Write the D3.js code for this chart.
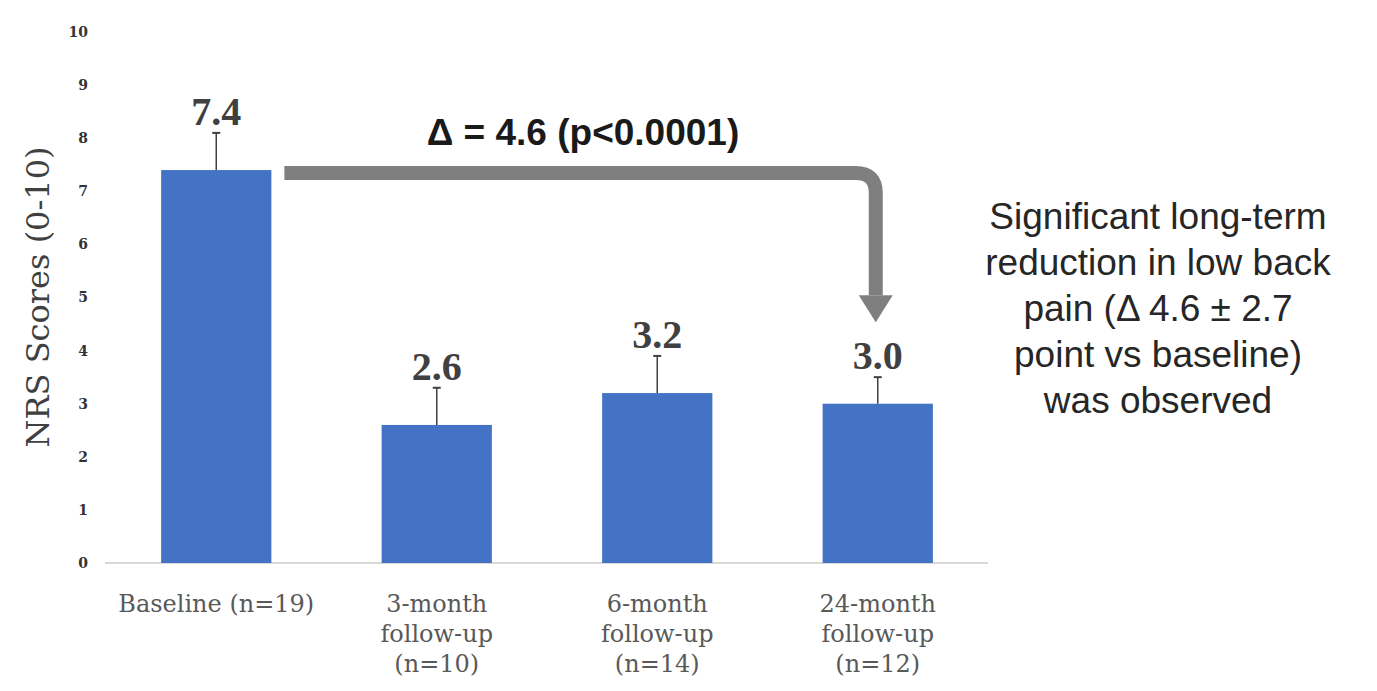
<!DOCTYPE html>
<html lang="en">
<head>
<meta charset="UTF-8">
<title>NRS Scores</title>
<script src="https://d3js.org/d3.v7.min.js"></script>
<style>
  body { margin: 0; background: #fff; }
  svg { display: block; }
</style>
</head>
<body>
<svg width="1377" height="691"></svg>
<script>
// chart values
var categories = [
  ["Baseline (n=19)"],
  ["3-month", "follow-up", "(n=10)"],
  ["6-month", "follow-up", "(n=14)"],
  ["24-month", "follow-up", "(n=12)"]
];
var means = [7.4, 2.6, 3.2, 3.0];
var errors = [0.7, 0.7, 0.7, 0.5];
var valueLabels = ["7.4", "2.6", "3.2", "3.0"];
var yTicks = [0, 1, 2, 3, 4, 5, 6, 7, 8, 9, 10];
var deltaText = "\u0394 = 4.6 (p<0.0001)";
var noteLines = [
  "Significant long-term",
  "reduction in low back",
  "pain (\u0394 4.6 \u00b1 2.7",
  "point vs baseline)",
  "was observed"
];

var svg = d3.select("svg");
var serif = "'DejaVu Serif', serif";
var sans = "'Liberation Sans', Arial, sans-serif";

var ids = d3.range(categories.length);
var x = d3.scaleBand().domain(ids).range([106, 988]).paddingInner(0.5).paddingOuter(0.25);
var y = d3.scaleLinear().domain([0, 10]).range([563, 32]);
var bw = x.bandwidth();

// y tick labels (no axis line)
var yAxis = d3.axisLeft(y).tickValues(yTicks).tickSize(0).tickPadding(0);
var yg = svg.append("g").attr("transform", "translate(88,0)").call(yAxis);
yg.select(".domain").remove();
yg.selectAll("text")
  .attr("font-family", serif).attr("font-weight", "bold")
  .attr("font-size", 14).attr("fill", "#333");

// y title
svg.append("text")
  .attr("transform", "translate(49,297) rotate(-90)")
  .attr("text-anchor", "middle")
  .attr("font-family", serif).attr("font-size", 32)
  .attr("fill", "#404040")
  .text("NRS Scores (0-10)");

// baseline axis
var xAxis = d3.axisBottom(x).tickSize(0).tickFormat("");
var xg = svg.append("g").attr("transform", "translate(0," + y(0) + ")").call(xAxis);
xg.select(".domain").attr("stroke", "#d9d9d9").attr("stroke-width", 2)
  .attr("d", "M" + 105 + ",0H" + 988);

// bars
svg.selectAll(".bar").data(ids).enter().append("rect")
  .attr("class", "bar")
  .attr("x", function(i) { return x(i); })
  .attr("y", function(i) { return y(means[i]); })
  .attr("width", bw)
  .attr("height", function(i) { return y(0) - y(means[i]); })
  .attr("fill", "#4472c4");

// error bars
var eb = svg.selectAll(".err").data(ids).enter().append("g").attr("class", "err");
eb.append("line")
  .attr("x1", function(i) { return x(i) + bw / 2; })
  .attr("x2", function(i) { return x(i) + bw / 2; })
  .attr("y1", function(i) { return y(means[i]); })
  .attr("y2", function(i) { return y(means[i] + errors[i]); })
  .attr("stroke", "#404040").attr("stroke-width", 1.5);
eb.append("line")
  .attr("x1", function(i) { return x(i) + bw / 2 - 4; })
  .attr("x2", function(i) { return x(i) + bw / 2 + 4; })
  .attr("y1", function(i) { return y(means[i] + errors[i]); })
  .attr("y2", function(i) { return y(means[i] + errors[i]); })
  .attr("stroke", "#404040").attr("stroke-width", 2);

// value labels
svg.selectAll(".val").data(ids).enter().append("text")
  .attr("class", "val")
  .attr("x", function(i) { return x(i) + bw / 2; })
  .attr("y", function(i) { return y(means[i] + errors[i]) - 8; })
  .attr("text-anchor", "middle")
  .attr("font-family", "'Liberation Serif', serif").attr("font-weight", "bold")
  .attr("font-size", 40).attr("fill", "#404040")
  .text(function(i) { return valueLabels[i]; });

// category labels
var cl = svg.selectAll(".cat").data(ids).enter().append("text")
  .attr("class", "cat")
  .attr("text-anchor", "middle")
  .attr("font-family", serif).attr("font-size", 24)
  .attr("fill", "#595959");
cl.selectAll("tspan").data(function(i) {
    return categories[i].map(function(t, k) { return { t: t, k: k, i: i }; });
  }).enter().append("tspan")
  .attr("x", function(d) { return x(d.i) + bw / 2; })
  .attr("y", function(d) { return 612 + d.k * 30; })
  .text(function(d) { return d.t; });

// elbow arrow from baseline bar to 24-month bar
var last = ids.length - 1;
var ax0 = x(0) + bw + 13;
var ay = y(means[0]) + 3;
var ax1 = x(last) + bw / 2 - 2;
var headTop = y(means[last] + errors[last]) - 82;
var tipY = y(means[last] + errors[last]) - 55;
var r = 20;
svg.append("path")
  .attr("d", "M" + ax0 + "," + ay + "H" + (ax1 - r) +
    "Q" + ax1 + "," + ay + " " + ax1 + "," + (ay + r) + "V" + headTop)
  .attr("fill", "none").attr("stroke", "#7f7f7f").attr("stroke-width", 14);
svg.append("path")
  .attr("d", "M" + (ax1 - 17) + "," + headTop + "H" + (ax1 + 17) +
    "L" + ax1 + "," + tipY + "Z")
  .attr("fill", "#7f7f7f");

svg.append("text")
  .attr("x", 583).attr("y", 145)
  .attr("text-anchor", "middle")
  .attr("font-family", sans).attr("font-weight", "bold")
  .attr("font-size", 37).attr("fill", "#1a1a1a")
  .text(deltaText);

// right-side note
svg.append("g").selectAll("text").data(noteLines).enter().append("text")
  .attr("x", 1158)
  .attr("y", function(d, k) { return 229 + k * 46; })
  .attr("text-anchor", "middle")
  .attr("font-family", sans).attr("font-size", 37)
  .attr("fill", "#262626")
  .text(function(d) { return d; });
</script>
</body>
</html>
